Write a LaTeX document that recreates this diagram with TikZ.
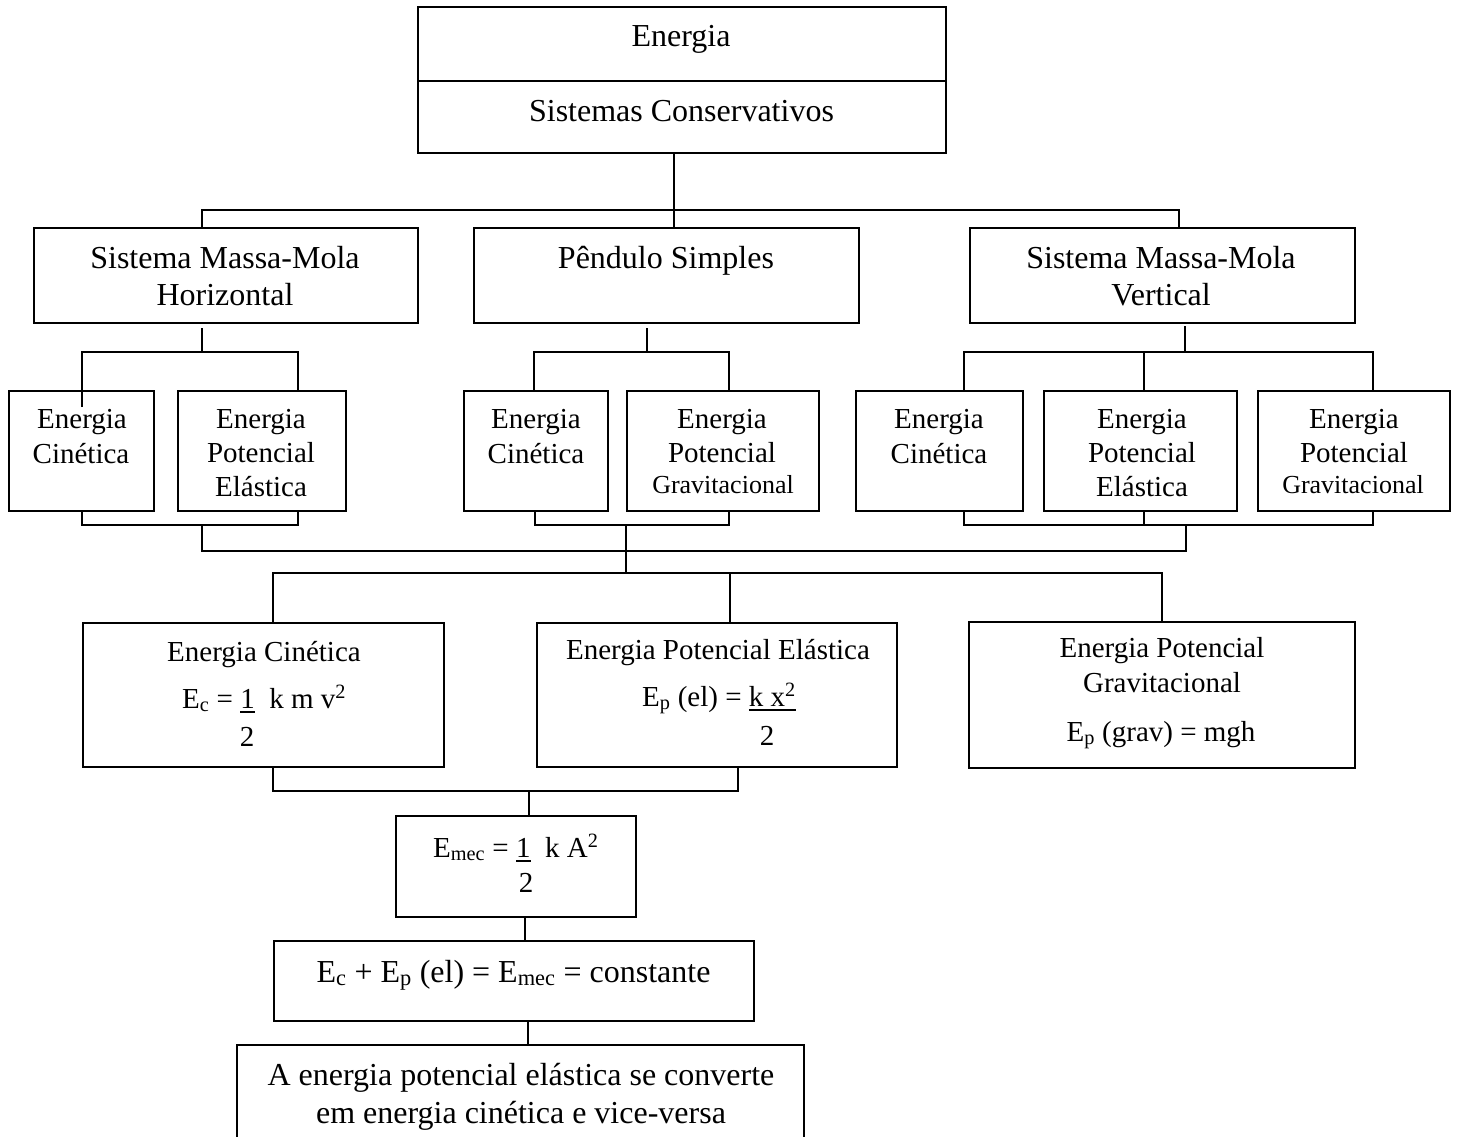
\documentclass[tikz,border=0pt]{standalone}
\usepackage{fontspec}
\setmainfont{Liberation Serif}
\usetikzlibrary{fit}
% font sizes used in the chart
\newcommand\fbig{\fontsize{32}{37}\selectfont}
\newcommand\fmid{\fontsize{29}{34}\selectfont}
\newcommand\fsml{\fontsize{26}{30}\selectfont}
% underlined numerator of the hand-set fractions
\newcommand\ubar[1]{\vtop{\hbox{#1}\kern2.6pt\hrule height 2.4pt}}
\tikzset{
  box/.style={draw, line width=2.2pt, inner sep=0pt, outer sep=0pt},
  link/.style={line width=2.2pt},
  lbl/.style={inner sep=0pt, anchor=base},
  lblw/.style={inner sep=0pt, anchor=base west},
}
\begin{document}
\begin{tikzpicture}[x=1pt,y=-1pt]
\useasboundingbox (0,0) rectangle (1457,1137);
\clip (0,0) rectangle (1457,1137);

% ---------- boxes ----------
\node[box, fit={(418,7) (946,153)}] (top) {};
\draw[link] (top.west |- 0,81) -- (top.east |- 0,81);
\node[box, fit={(34,228) (418,323)}] (sysA) {};
\node[box, fit={(474,228) (859,323)}] (sysB) {};
\node[box, fit={(970,228) (1355,323)}] (sysC) {};

\node[box, fit={(9,391) (154,511)}] (A1) {};
\node[box, fit={(178,391) (346,511)}] (A2) {};
\node[box, fit={(464,391) (608,511)}] (B1) {};
\node[box, fit={(627,391) (819,511)}] (B2) {};
\node[box, fit={(856,391) (1023,511)}] (C1) {};
\node[box, fit={(1044,391) (1237,511)}] (C2) {};
\node[box, fit={(1258,391) (1450,511)}] (C3) {};

\node[box, fit={(83,623) (444,767)}] (D1) {};
\node[box, fit={(537,623) (897,767)}] (D2) {};
\node[box, fit={(969,622) (1355,768)}] (D3) {};

\node[box, fit={(396,816) (636,917)}] (E) {};
\node[box, fit={(274,941) (754,1021)}] (F) {};
\node[box, fit={(237,1045) (804,1170)}] (G) {};

% ---------- texts ----------
\node[lbl, font=\fbig] (tA) at (681,47) {Energia};
\node[lbl, font=\fbig] (tB) at (681.5,122) {Sistemas Conservativos};

\node[lbl, font=\fbig] (sA1) at (225,268) {Sistema Massa-Mola};
\node[lbl, font=\fbig] (sA2) at (225,305) {Horizontal};
\node[lbl, font=\fbig] (sB1) at (666,268) {Pêndulo Simples};
\node[lbl, font=\fbig] (sC1) at (1161,268) {Sistema Massa-Mola};
\node[lbl, font=\fbig] (sC2) at (1161,305) {Vertical};

\node[lbl, font=\fmid] (a1a) at (82,428) {Energia};
\node[lbl, font=\fmid] (a1b) at (81,463) {Cinética};
\node[lbl, font=\fmid] (a2a) at (261,428) {Energia};
\node[lbl, font=\fmid] (a2b) at (261,462) {Potencial};
\node[lbl, font=\fmid] (a2c) at (261,496) {Elástica};

\node[lbl, font=\fmid] (b1a) at (536,428) {Energia};
\node[lbl, font=\fmid] (b1b) at (536,463) {Cinética};
\node[lbl, font=\fmid] (b2a) at (722,428) {Energia};
\node[lbl, font=\fmid] (b2b) at (722,462) {Potencial};
\node[lbl, font=\fsml] (b2c) at (723,493) {Gravitacional};

\node[lbl, font=\fmid] (c1a) at (939,428) {Energia};
\node[lbl, font=\fmid] (c1b) at (939,463) {Cinética};
\node[lbl, font=\fmid] (c2a) at (1142,428) {Energia};
\node[lbl, font=\fmid] (c2b) at (1142,462) {Potencial};
\node[lbl, font=\fmid] (c2c) at (1142,496) {Elástica};
\node[lbl, font=\fmid] (c3a) at (1354,428) {Energia};
\node[lbl, font=\fmid] (c3b) at (1354,462) {Potencial};
\node[lbl, font=\fsml] (c3c) at (1353,493) {Gravitacional};

\node[lbl, font=\fmid] (d1a) at (264,661) {Energia Cinética};
\node[lblw, font=\fmid] (d1b) at (182,708)
  {E\textsubscript{c} = \ubar{1}\ \ k m v\textsuperscript{2}};
\node[lbl, font=\fmid] (d1c) at (247,746) {2};

\node[lbl, font=\fmid] (d2a) at (718,659) {Energia Potencial Elástica};
\node[lblw, font=\fmid] (d2b) at (642,706)
  {E\textsubscript{p} (el) = \ubar{k x\textsuperscript{2}}};
\node[lbl, font=\fmid] (d2c) at (767,745) {2};

\node[lbl, font=\fmid] (d3a) at (1162,657) {Energia Potencial};
\node[lbl, font=\fmid] (d3b) at (1162,692) {Gravitacional};
\node[lbl, font=\fmid] (d3c) at (1161,741) {E\textsubscript{p} (grav) = mgh};

\node[lblw, font=\fmid] (e1) at (433,857)
  {E\textsubscript{mec} = \ubar{1}\ \ k A\textsuperscript{2}};
\node[lbl, font=\fmid] (e2) at (526,892) {2};

\node[lbl, font=\fbig] (f1) at (513.5,982)
  {E\textsubscript{c} + E\textsubscript{p} (el) = E\textsubscript{mec} = constante};

\node[lbl, font=\fbig] (g1) at (521,1085) {A energia potencial elástica se converte};
\node[lbl, font=\fbig] (g2) at (521,1123) {em energia cinética e vice-versa};

% ---------- connectors ----------
% top box to the three systems
\coordinate (j0) at (674,210);
\coordinate (j0L) at (202,210);
\coordinate (j0R) at (1179,210);
\draw[link] (top.south -| j0) -- (j0) -- (sysB.north -| j0);
\draw[link] (sysA.north -| j0L) -- (j0L) -- (j0R) -- (sysC.north -| j0R);

% horizontal spring-mass system
\coordinate (hA) at (202,352);
\coordinate (hAL) at (82,352);
\coordinate (hAR) at (298,352);
\coordinate (hAin) at (82,407);
\draw[link] ([yshift=-5pt]sysA.south -| hA) -- (hA);
\draw[link] (hAin) -- (hAL) -- (hAR) -- (A2.north -| hAR);
\coordinate (lA) at (202,525);
\coordinate (lAL) at (82,525);
\coordinate (lAR) at (298,525);
\draw[link] (A1.south -| lAL) -- (lAL) -- (lAR) -- (A2.south -| lAR);

% simple pendulum
\coordinate (hB) at (647,352);
\coordinate (hBL) at (534,352);
\coordinate (hBR) at (729,352);
\draw[link] ([yshift=-5pt]sysB.south -| hB) -- (hB);
\draw[link] (B1.north -| hBL) -- (hBL) -- (hBR) -- (B2.north -| hBR);
\coordinate (lB) at (626,525);
\coordinate (lBL) at (535,525);
\coordinate (lBR) at (729,525);
\draw[link] (B1.south -| lBL) -- (lBL) -- (lBR) -- (B2.south -| lBR);

% vertical spring-mass system
\coordinate (hC) at (1185,352);
\coordinate (hCL) at (964,352);
\coordinate (hCM) at (1144,352);
\coordinate (hCR) at (1373,352);
\draw[link] ([yshift=-3pt]sysC.south -| hC) -- (hC);
\draw[link] (C1.north -| hCL) -- (hCL) -- (hCR) -- (C3.north -| hCR);
\draw[link] (hCM) -- (C2.north -| hCM);
\coordinate (lC) at (1186,525);
\coordinate (lCL) at (964,525);
\coordinate (lCM) at (1144,525);
\coordinate (lCR) at (1373,525);
\draw[link] (C1.south -| lCL) -- (lCL) -- (lCR) -- (C3.south -| lCR);
\draw[link] (C2.south -| lCM) -- (lCM);

% common bus joining the three groups
\coordinate (kA) at (202,551);
\coordinate (kC) at (1186,551);
\coordinate (kB) at (626,573);
\draw[link] (lA) -- (kA) -- (kC) -- (lC);
\draw[link] (lB) -- (kB);

% bus to the energy-formula boxes
\coordinate (mL) at (273,573);
\coordinate (mM) at (730,573);
\coordinate (mR) at (1162,573);
\draw[link] (D1.north -| mL) -- (mL) -- (mR) -- (D3.north -| mR);
\draw[link] (mM) -- (D2.north -| mM);

% kinetic + elastic to mechanical energy
\coordinate (nL) at (273,791);
\coordinate (nR) at (738,791);
\coordinate (nM) at (529,791);
\draw[link] (D1.south -| nL) -- (nL) -- (nR) -- (D2.south -| nR);
\draw[link] (nM) -- (E.north -| nM);

\coordinate (pE) at (525,930);
\draw[link] (E.south -| pE) -- (F.north -| pE);
\coordinate (pF) at (528,1030);
\draw[link] (F.south -| pF) -- (G.north -| pF);
\end{tikzpicture}
\end{document}
